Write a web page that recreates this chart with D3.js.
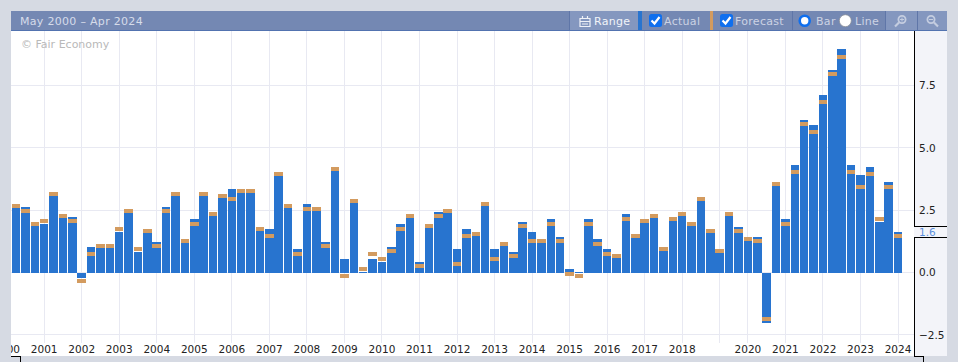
<!DOCTYPE html>
<html>
<head>
<meta charset="utf-8">
<script src="https://cdn.jsdelivr.net/npm/d3@7"></script>
<style>
    html, body { margin: 0; padding: 0; background: #d6dae3; overflow: hidden; }
    svg { display: block; font-family: "DejaVu Sans", sans-serif; }
    .tick text { font-family: "DejaVu Sans", sans-serif; font-size: 10.5px; fill: #222; }
</style>
</head>
<body>
<svg id="chart" width="958" height="362"></svg>
<script>
const quarters = ["2000 Q1","2000 Q2","2000 Q3","2000 Q4",
    "2001 Q1","2001 Q2","2001 Q3","2001 Q4","2002 Q1","2002 Q2","2002 Q3","2002 Q4",
    "2003 Q1","2003 Q2","2003 Q3","2003 Q4","2004 Q1","2004 Q2","2004 Q3","2004 Q4",
    "2005 Q1","2005 Q2","2005 Q3","2005 Q4","2006 Q1","2006 Q2","2006 Q3","2006 Q4",
    "2007 Q1","2007 Q2","2007 Q3","2007 Q4","2008 Q1","2008 Q2","2008 Q3","2008 Q4",
    "2009 Q1","2009 Q2","2009 Q3","2009 Q4","2010 Q1","2010 Q2","2010 Q3","2010 Q4",
    "2011 Q1","2011 Q2","2011 Q3","2011 Q4","2012 Q1","2012 Q2","2012 Q3","2012 Q4",
    "2013 Q1","2013 Q2","2013 Q3","2013 Q4","2014 Q1","2014 Q2","2014 Q3","2014 Q4",
    "2015 Q1","2015 Q2","2015 Q3","2015 Q4","2016 Q1","2016 Q2","2016 Q3","2016 Q4",
    "2017 Q1","2017 Q2","2017 Q3","2017 Q4","2018 Q1","2018 Q2","2018 Q3","2018 Q4",
    "2019 Q1","2019 Q2","2019 Q4",
    "2020 Q1","2020 Q2","2020 Q3","2020 Q4","2021 Q1","2021 Q2","2021 Q3","2021 Q4",
    "2022 Q1","2022 Q2","2022 Q3","2022 Q4","2023 Q1","2023 Q2","2023 Q3","2023 Q4",
    "2024 Q1"];

// no release for the first slot, the axis still needs it for the clipped 2000 label
const actual = [null,
    2.67,2.63,1.95,1.95,3.15,2.27,2.23,-0.22,1.02,1.06,1.06,1.63,2.47,0.82,1.67,1.22,2.63,3.15,1.27,
    2.15,3.15,2.35,3.07,3.35,3.27,3.27,1.75,1.75,3.96,2.67,0.94,2.75,2.55,1.22,4.16,0.54,2.87,0.02,0.54,
    0.42,1.02,1.95,2.27,0.42,1.87,2.43,2.47,0.94,1.75,1.55,2.75,0.94,1.14,0.82,2.03,1.63,1.27,2.15,1.43,
    0.14,0.02,2.15,1.35,0.94,0.66,2.35,1.47,2.07,2.27,0.94,2.15,2.35,1.95,2.95,1.67,0.86,2.35,1.83,1.35,
    1.43,-2.03,3.55,2.15,4.32,6.12,5.92,7.13,8.13,8.94,4.32,3.92,4.24,2.03,3.63,1.63];
const forecast = [null,
    2.67,2.47,1.95,2.07,3.15,2.27,2.07,-0.34,0.74,1.06,1.06,1.75,2.47,0.94,1.67,1.06,2.47,3.15,1.27,
    1.95,3.15,2.35,3.07,2.95,3.27,3.27,1.75,1.47,3.96,2.67,0.74,2.55,2.55,1.06,4.16,-0.14,2.87,0.14,0.74,
    0.54,0.86,1.75,2.27,0.26,1.87,2.27,2.47,0.34,1.47,1.55,2.75,0.54,1.14,0.66,1.87,1.27,1.27,1.95,1.27,
    -0.06,-0.14,1.95,1.14,0.74,0.66,2.15,1.47,2.07,2.27,0.94,2.15,2.35,1.95,2.95,1.67,0.86,2.35,1.67,1.35,
    1.27,-1.87,3.55,1.95,4.04,5.96,5.64,6.85,7.97,8.65,4.04,3.43,3.96,2.15,3.43,1.47];

const yTicks = [-2.5, 0, 2.5, 5, 7.5];
const yearQuarters = quarters.filter(q => q.endsWith("Q1"));
const latestValue = 1.6;

const plotLeft = 11, plotRight = 914, plotTop = 31, plotBottom = 356, panelRight = 947;
const bandLeft = 1.94, bandRight = 902.7;
const colActual = "#2874cf", colForecast = "#d39b5f", colGrid = "#e8e9f2";
const colHeader = "#7488b3", colButton = "#8497bf", colDivider = "#5f76a8";

const svg = d3.select("#chart");

const x = d3.scaleBand()
    .domain(quarters)
    .range([bandLeft, bandRight])
    .paddingInner(0.09)
    .paddingOuter(0.045);

const y = d3.scaleLinear()
    .domain([0, 7.5])
    .range([272.5, 85.3]);

svg.append("defs").append("clipPath")
    .attr("id", "plot-clip")
    .append("rect")
        .attr("x", plotLeft).attr("y", plotTop)
        .attr("width", plotRight - plotLeft).attr("height", plotBottom - plotTop);

svg.append("rect")
    .attr("x", plotLeft).attr("y", plotTop)
    .attr("width", plotRight - plotLeft).attr("height", plotBottom - plotTop)
    .attr("fill", "#fff");
svg.append("rect")
    .attr("x", plotRight).attr("y", plotTop)
    .attr("width", panelRight - plotRight).attr("height", plotBottom - plotTop)
    .attr("fill", "#f3f4f9");

const plot = svg.append("g").attr("clip-path", "url(#plot-clip)");

// grid
plot.append("g").selectAll("line")
    .data(yearQuarters)
    .join("line")
        .attr("x1", d => Math.floor(x(d) + x.bandwidth() / 2) + 0.5)
        .attr("x2", d => Math.floor(x(d) + x.bandwidth() / 2) + 0.5)
        .attr("y1", plotTop).attr("y2", 343)
        .attr("stroke", colGrid);
plot.append("g").selectAll("line")
    .data(yTicks)
    .join("line")
        .attr("x1", plotLeft).attr("x2", plotRight)
        .attr("y1", d => Math.floor(y(d)) + 0.5)
        .attr("y2", d => Math.floor(y(d)) + 0.5)
        .attr("stroke", colGrid);

// bars
const items = quarters.map((q, i) => ({ key: q, actual: actual[i], forecast: forecast[i] }))
    .filter(d => d.actual !== null);

plot.append("g").selectAll("rect")
    .data(items)
    .join("rect")
        .attr("x", d => x(d.key))
        .attr("width", x.bandwidth())
        .attr("y", d => Math.min(y(d.actual), y(0)))
        .attr("height", d => Math.abs(y(d.actual) - y(0)))
        .attr("shape-rendering", "crispEdges")
        .attr("fill", colActual);

plot.append("g").selectAll("rect")
    .data(items)
    .join("rect")
        .attr("x", d => x(d.key))
        .attr("width", x.bandwidth())
        .attr("y", d => y(d.forecast) - 2)
        .attr("height", 4)
        .attr("shape-rendering", "crispEdges")
        .attr("fill", colForecast);

svg.append("text")
    .attr("x", 21).attr("y", 48)
    .attr("font-size", 11)
    .attr("fill", "#b9b9b9")
    .text("© Fair Economy");

// axes
const xAxis = d3.axisBottom(x)
    .tickValues(yearQuarters)
    .tickSize(0)
    .tickPadding(0)
    .tickFormat(d => d.startsWith("2019") ? "" : d.slice(0, 4));

const gX = svg.append("g")
    .attr("clip-path", "url(#plot-clip)")
    .append("g")
        .attr("transform", "translate(0,345.5)")
        .call(xAxis);
gX.select(".domain").remove();

const yAxis = d3.axisRight(y)
    .tickValues(yTicks)
    .tickSize(0)
    .tickPadding(0)
    .tickFormat(d3.format(".1f"));

const gY = svg.append("g")
    .attr("transform", "translate(919,0)")
    .call(yAxis);
gY.select(".domain").remove();

// right border, broken around the latest value
const borderPath = `M${plotRight + 0.5},${plotTop} V356.5 H923.5 V362 M${plotRight},226.5 H${panelRight} M${plotRight},237.5 H${panelRight} M20.5,362 V356.5 H11`;
svg.append("path")
    .attr("d", borderPath)
    .attr("fill", "none")
    .attr("stroke", "#000")
    .attr("shape-rendering", "crispEdges");
svg.append("rect")
    .attr("x", plotRight).attr("y", 227)
    .attr("width", panelRight - plotRight).attr("height", 10)
    .attr("fill", "#f3f4f9");
svg.append("text")
    .attr("x", 919).attr("y", y(latestValue))
    .attr("dy", "0.36em")
    .attr("font-size", 10.5)
    .attr("fill", "#5b8fdc")
    .text(latestValue.toFixed(1));

// header bar
const header = svg.append("g");
header.append("rect")
    .attr("x", plotLeft).attr("y", 11)
    .attr("width", panelRight - plotLeft).attr("height", 19)
    .attr("fill", colHeader);
header.append("rect")
    .attr("x", plotLeft).attr("y", 30)
    .attr("width", panelRight - plotLeft).attr("height", 1)
    .attr("fill", "#5273b0");

const buttons = [[570, 638], [885, 917], [917, 947]];
header.selectAll(".button")
    .data(buttons)
    .join("rect")
        .attr("class", "button")
        .attr("x", d => d[0]).attr("y", 11)
        .attr("width", d => d[1] - d[0]).attr("height", 19)
        .attr("fill", colButton);
const dividers = [569, 792, 885, 917];
header.selectAll(".divider")
    .data(dividers)
    .join("rect")
        .attr("class", "divider")
        .attr("x", d => d).attr("y", 11)
        .attr("width", 1).attr("height", 19)
        .attr("fill", colDivider);
header.append("rect").attr("x", 638).attr("y", 11).attr("width", 4).attr("height", 19).attr("fill", colActual);
header.append("rect").attr("x", 710).attr("y", 11).attr("width", 3).attr("height", 19).attr("fill", colForecast);

const labels = [
    { text: "May 2000 – Apr 2024", x: 20, fill: "#d6dcea" },
    { text: "Range", x: 594, fill: "#f2f4f9" },
    { text: "Actual", x: 664, fill: "#ccd3e4" },
    { text: "Forecast", x: 735, fill: "#ccd3e4" },
    { text: "Bar", x: 816, fill: "#ccd3e4" },
    { text: "Line", x: 855, fill: "#ccd3e4" }
];
header.selectAll(".label")
    .data(labels)
    .join("text")
        .attr("class", "label")
        .attr("x", d => d.x).attr("y", 25)
        .attr("font-size", 11)
        .attr("letter-spacing", 0.3)
        .attr("fill", d => d.fill)
        .text(d => d.text);

// checkboxes
[649, 720].forEach(cx => {
    header.append("rect")
        .attr("x", cx).attr("y", 14)
        .attr("width", 13).attr("height", 13)
        .attr("rx", 2.5)
        .attr("fill", "#0f6fee");
    header.append("path")
        .attr("d", `M${cx + 2.5},${20.5} l3,3 l5,-6.5`)
        .attr("fill", "none")
        .attr("stroke", "#fff")
        .attr("stroke-width", 2.2);
});

// radios
header.append("circle").attr("cx", 804.7).attr("cy", 20.7).attr("r", 5).attr("fill", "#fff").attr("stroke", "#0f6fee").attr("stroke-width", 2.6);
header.append("circle").attr("cx", 845.3).attr("cy", 20.7).attr("r", 6).attr("fill", "#fff").attr("stroke", "#8a8f99").attr("stroke-width", 0.8);

// range icon
header.append("path")
    .attr("d", "M580,18.5 H590 V26.5 H580 Z M580,21.5 H590 M582.5,16 V19 M587.5,16 V19 M582,24 H588")
    .attr("fill", "none")
    .attr("stroke", "#eef1f7")
    .attr("stroke-width", 1.2);

// magnifiers
[[902, true], [931, false]].forEach(([cx, plus]) => {
    header.append("circle")
        .attr("cx", cx).attr("cy", 19.5).attr("r", 3.6)
        .attr("fill", "none").attr("stroke", "#c4cde0").attr("stroke-width", 1.8);
    header.append("path")
        .attr("d", plus ? `M${cx - 3},${22.5} l-4,4` : `M${cx + 3},${22.5} l4,4`)
        .attr("stroke", "#c4cde0").attr("stroke-width", 2.2);
    header.append("path")
        .attr("d", plus ? `M${cx - 2},19.5 h4 M${cx},17.5 v4` : `M${cx - 2},19.5 h4`)
        .attr("stroke", "#c4cde0").attr("stroke-width", 1);
});
</script>
</body>
</html>
